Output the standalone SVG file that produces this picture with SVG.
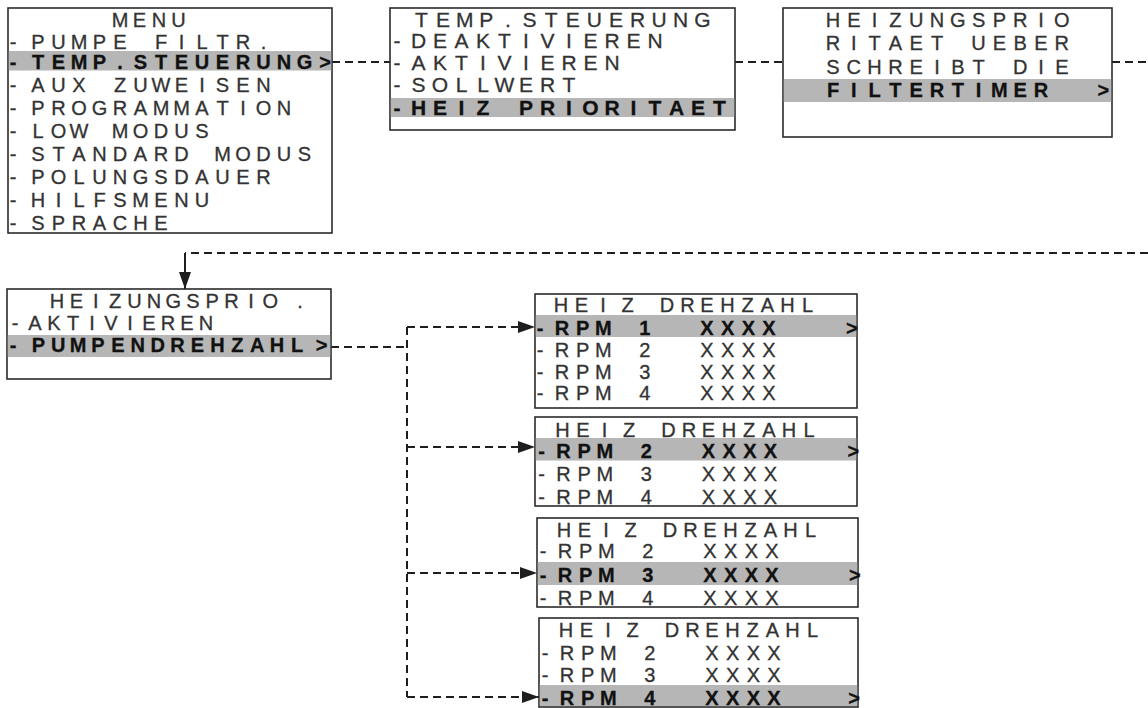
<svg xmlns="http://www.w3.org/2000/svg" width="1148" height="708" viewBox="0 0 1148 708">
<defs>
<style>
.box{fill:#fff;stroke:#2b2b2b;stroke-width:1.6}
.bar{fill:#b6b6b6}
.t{font-family:"Liberation Sans",Arial,sans-serif;font-size:20px;fill:#333;stroke:#333;stroke-width:0.3;text-anchor:middle;white-space:pre}
.b{font-weight:bold;fill:#111;stroke:#111}
.t2{font-size:21px}
.c{fill:none;stroke:#1e1e1e;stroke-width:2;stroke-dasharray:8 5}
.s{fill:none;stroke:#1e1e1e;stroke-width:2}
</style>
<marker id="ah" markerUnits="userSpaceOnUse" markerWidth="17" markerHeight="12" refX="17" refY="6" orient="auto"><path d="M0,0 L17,6 L0,12 Z" fill="#1e1e1e"/></marker>
</defs>
<rect width="1148" height="708" fill="#fff"/>

<g id="connectors">
<path class="c" d="M332,62 H390"/>
<path class="c" d="M735,62 H783"/>
<path class="c" d="M1112,62 H1148"/>
<path class="c" d="M1148,253 H185"/>
<path class="s" d="M185,253 V289" marker-end="url(#ah)"/>
<path class="c" d="M331,347 H407"/>
<path class="c" d="M407,327 V697"/>
<path class="c" d="M407,327 H535" marker-end="url(#ah)"/>
<path class="c" d="M407,447 H535" marker-end="url(#ah)"/>
<path class="c" d="M407,573 H537" marker-end="url(#ah)"/>
<path class="c" d="M407,697 H539" marker-end="url(#ah)"/>
</g>

<g id="menu">
<rect class="box" x="8" y="8" width="324" height="225"/>
<rect class="bar" x="8.8" y="51" width="322.4" height="19.5"/>
<text class="t" x="120 139.5 159 178.5" y="27">MENU</text>
<text class="t" x="13 38 58.5 79 99.5 120 140.5 161 181.5 202 222.5 243 263.5 284 304.5 325" y="48.5">-PUMPE FILTR.</text>
<text class="t b" x="13 38 58.5 79 99.5 120 140.5 161 181.5 202 222.5 243 263.5 284 304.5 325" y="68.5">-TEMP.STEUERUNG&gt;</text>
<text class="t" x="13 38 58.5 79 99.5 120 140.5 161 181.5 202 222.5 243 263.5 284 304.5 325" y="92">-AUX ZUWEISEN</text>
<text class="t" x="13 38 58.5 79 99.5 120 140.5 161 181.5 202 222.5 243 263.5 284 304.5 325" y="115">-PROGRAMMATION</text>
<text class="t" x="13 38 58.5 79 99.5 120 140.5 161 181.5 202 222.5 243 263.5 284 304.5 325" y="138">-LOW MODUS</text>
<text class="t" x="13 38 58.5 79 99.5 120 140.5 161 181.5 202 222.5 243 263.5 284 304.5 325" y="161">-STANDARD MODUS</text>
<text class="t" x="13 38 58.5 79 99.5 120 140.5 161 181.5 202 222.5 243 263.5 284 304.5 325" y="184">-POLUNGSDAUER</text>
<text class="t" x="13 38 58.5 79 99.5 120 140.5 161 181.5 202 222.5 243 263.5 284 304.5 325" y="207">-HILFSMENU</text>
<text class="t" x="13 38 58.5 79 99.5 120 140.5 161 181.5 202 222.5 243 263.5 284 304.5 325" y="229.5">-SPRACHE</text>
</g>

<g id="temp-steuerung">
<rect class="box" x="390" y="8" width="345" height="122"/>
<rect class="bar" x="390.8" y="98" width="343.4" height="19"/>
<text class="t t2" x="421.5 443.1 464.7 486.3 507.9 529.5 551.1 572.7 594.3 615.9 637.5 659.1 680.7 702.3" y="27">TEMP.STEUERUNG</text>
<text class="t t2" x="397 418.5 440 461.5 483 504.5 526 547.5 569 590.5 612 633.5 655 676.5 698 719.5" y="48">-DEAKTIVIEREN</text>
<text class="t t2" x="397 418.5 440 461.5 483 504.5 526 547.5 569 590.5 612 633.5 655 676.5 698 719.5" y="70">-AKTIVIEREN</text>
<text class="t t2" x="397 418.5 440 461.5 483 504.5 526 547.5 569 590.5 612 633.5 655 676.5 698 719.5" y="92">-SOLLWERT</text>
<text class="t t2 b" x="397 418.5 440 461.5 483 504.5 526 547.5 569 590.5 612 633.5 655 676.5 698 719.5" y="115">-HEIZ PRIORITAET</text>
</g>

<g id="heizungsprio-info">
<rect class="box" x="783" y="8" width="329" height="129"/>
<rect class="bar" x="783.8" y="79" width="327.4" height="23"/>
<text class="t" x="833 853.8 874.6 895.4 916.2 937 957.8 978.6 999.4 1020.2 1041 1061.8 1082.6 1103.4" y="27">HEIZUNGSPRIO</text>
<text class="t" x="833 853.8 874.6 895.4 916.2 937 957.8 978.6 999.4 1020.2 1041 1061.8 1082.6 1103.4" y="50">RITAET UEBER</text>
<text class="t" x="833 853.8 874.6 895.4 916.2 937 957.8 978.6 999.4 1020.2 1041 1061.8 1082.6 1103.4" y="73.5">SCHREIBT DIE</text>
<text class="t b" x="833 853.8 874.6 895.4 916.2 937 957.8 978.6 999.4 1020.2 1041 1061.8 1082.6 1103.4" y="97">FILTERTIMER  &gt;</text>
</g>

<g id="heizungsprio">
<rect class="box" x="7" y="289" width="324" height="90"/>
<rect class="bar" x="7.8" y="335" width="322.4" height="22"/>
<text class="t" x="57 76.4 95.8 115.2 134.6 154 173.4 192.8 212.2 231.6 251 270.4 300" y="308">HEIZUNGSPRIO.</text>
<text class="t" x="15 35 54 73 92 111 130 149 168 187 206" y="330">-AKTIVIEREN</text>
<text class="t b" x="13 38.3 58.2 78.1 98 117.9 137.8 157.7 177.6 197.5 217.4 237.3 257.2 277.1 297 321.5" y="352">-PUMPENDREHZAHL&gt;</text>
</g>

<g id="rpm1">
<rect class="box" x="535" y="294" width="322" height="114"/>
<rect class="bar" x="535.8" y="315" width="320.4" height="22"/>
<text class="t" x="561 581.5 603 627.5 647 667 687.5 707 727.5 747.5 767.5 787.5 807.5" y="312">HEIZ DREHZAHL</text>
<text class="t b" x="540 562 582.7 603.4 624.1 644.8 665.5 686.2 706.9 727.6 748.3 769 789.7 810.4 831.1 851.8" y="335">-RPM 1  XXXX   &gt;</text>
<text class="t" x="540 562 582.7 603.4 624.1 644.8 665.5 686.2 706.9 727.6 748.3 769 789.7 810.4 831.1 851.8" y="357">-RPM 2  XXXX</text>
<text class="t" x="540 562 582.7 603.4 624.1 644.8 665.5 686.2 706.9 727.6 748.3 769 789.7 810.4 831.1 851.8" y="378.5">-RPM 3  XXXX</text>
<text class="t" x="540 562 582.7 603.4 624.1 644.8 665.5 686.2 706.9 727.6 748.3 769 789.7 810.4 831.1 851.8" y="400">-RPM 4  XXXX</text>
</g>

<g id="rpm2">
<rect class="box" x="535" y="417" width="322" height="89"/>
<rect class="bar" x="535.8" y="438" width="320.4" height="22.5"/>
<g transform="translate(1.5,0)">
<text class="t" x="561 581.5 603 627.5 647 667 687.5 707 727.5 747.5 767.5 787.5 807.5" y="437">HEIZ DREHZAHL</text>
<text class="t b" x="540 562 582.7 603.4 624.1 644.8 665.5 686.2 706.9 727.6 748.3 769 789.7 810.4 831.1 851.8" y="458">-RPM 2  XXXX   &gt;</text>
<text class="t" x="540 562 582.7 603.4 624.1 644.8 665.5 686.2 706.9 727.6 748.3 769 789.7 810.4 831.1 851.8" y="481">-RPM 3  XXXX</text>
<text class="t" x="540 562 582.7 603.4 624.1 644.8 665.5 686.2 706.9 727.6 748.3 769 789.7 810.4 831.1 851.8" y="503.5">-RPM 4  XXXX</text>
</g>
</g>

<g id="rpm3">
<rect class="box" x="537" y="518" width="321" height="89"/>
<rect class="bar" x="537.8" y="562" width="319.4" height="23"/>
<g transform="translate(3,0)">
<text class="t" x="561 581.5 603 627.5 647 667 687.5 707 727.5 747.5 767.5 787.5 807.5" y="537">HEIZ DREHZAHL</text>
<text class="t" x="540 562 582.7 603.4 624.1 644.8 665.5 686.2 706.9 727.6 748.3 769 789.7 810.4 831.1 851.8" y="558">-RPM 2  XXXX</text>
<text class="t b" x="540 562 582.7 603.4 624.1 644.8 665.5 686.2 706.9 727.6 748.3 769 789.7 810.4 831.1 851.8" y="582">-RPM 3  XXXX   &gt;</text>
<text class="t" x="540 562 582.7 603.4 624.1 644.8 665.5 686.2 706.9 727.6 748.3 769 789.7 810.4 831.1 851.8" y="604.5">-RPM 4  XXXX</text>
</g>
</g>

<g id="rpm4">
<rect class="box" x="539" y="618" width="319" height="89"/>
<rect class="bar" x="539.8" y="685" width="317.4" height="21"/>
<g transform="translate(5,0)">
<text class="t" x="561 581.5 603 627.5 647 667 687.5 707 727.5 747.5 767.5 787.5 807.5" y="637">HEIZ DREHZAHL</text>
<text class="t" x="540 562 582.7 603.4 624.1 644.8 665.5 686.2 706.9 727.6 748.3 769 789.7 810.4 831.1 851.8" y="660">-RPM 2  XXXX</text>
<text class="t" x="540 562 582.7 603.4 624.1 644.8 665.5 686.2 706.9 727.6 748.3 769 789.7 810.4 831.1 851.8" y="682">-RPM 3  XXXX</text>
<text class="t b" x="540 562 582.7 603.4 624.1 644.8 665.5 686.2 706.9 727.6 748.3 769 789.7 810.4 831.1 849" y="704.5">-RPM 4  XXXX   &gt;</text>
</g>
</g>
</svg>
